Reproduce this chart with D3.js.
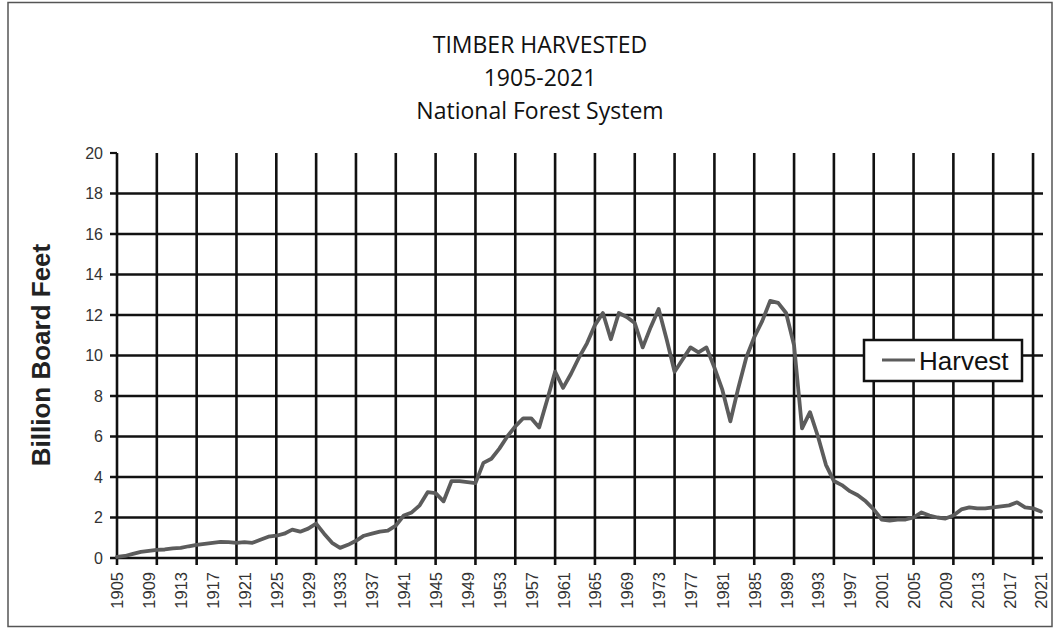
<!DOCTYPE html>
<html>
<head>
<meta charset="utf-8">
<script src="https://cdn.jsdelivr.net/npm/d3@7"></script>
<style>
  html, body { margin: 0; padding: 0; background: #fff; }
  svg { display: block; }
</style>
</head>
<body>
<svg id="chart" width="1060" height="629"></svg>
<script>
// ---- Data ----
const titleLines = ["TIMBER HARVESTED", "1905-2021", "National Forest System"];
const yAxisTitle = "Billion Board Feet";
const seriesName = "Harvest";

const years = d3.range(1905, 2022);
const harvest = [
  0.05, 0.1, 0.2, 0.3, 0.35, 0.4, 0.42, 0.48, 0.5, 0.58,      // 1905-1914
  0.65, 0.7, 0.75, 0.8, 0.78, 0.75, 0.78, 0.75, 0.9, 1.05,    // 1915-1924
  1.1, 1.2, 1.4, 1.3, 1.45, 1.7, 1.2, 0.75, 0.5, 0.65,        // 1925-1934
  0.85, 1.1, 1.2, 1.3, 1.35, 1.6, 2.1, 2.25, 2.6, 3.25,       // 1935-1944
  3.2, 2.8, 3.8, 3.8, 3.75, 3.7, 4.7, 4.9, 5.4, 6.0,          // 1945-1954
  6.5, 6.9, 6.9, 6.45, 7.8, 9.2, 8.4, 9.1, 9.9, 10.6,         // 1955-1964
  11.5, 12.1, 10.8, 12.1, 11.9, 11.6, 10.4, 11.4, 12.3, 10.8, // 1965-1974
  9.2, 9.8, 10.4, 10.15, 10.4, 9.4, 8.3, 6.75, 8.4, 9.9,      // 1975-1984
  10.9, 11.7, 12.7, 12.6, 12.1, 10.5, 6.4, 7.2, 6.0, 4.6,     // 1985-1994
  3.8, 3.6, 3.3, 3.1, 2.8, 2.4, 1.9, 1.85, 1.9, 1.9,          // 1995-2004
  2.0, 2.25, 2.1, 2.0, 1.95, 2.1, 2.4, 2.5, 2.45, 2.45,       // 2005-2014
  2.5, 2.55, 2.6, 2.75, 2.5, 2.45, 2.3                        // 2015-2021
];

const yTicks = [0, 2, 4, 6, 8, 10, 12, 14, 16, 18, 20];
const yGridValues = [0, 2, 4, 6, 8, 10, 12, 14, 16, 18];
const xLabelYears = d3.range(1905, 2022, 4);
const xGridYears = d3.range(1905, 2021, 5);

// ---- Layout ----
const svg = d3.select("#chart");
const plotLeft = 117, plotRight = 1041, plotTop = 153, plotBottom = 558;
const gridLeft = 110, gridRight = 1043, tickBottom = 565;

const x = d3.scaleLinear().domain([1905, 2021]).range([plotLeft, plotRight]);
const y = d3.scaleLinear().domain([0, 20]).range([plotBottom, plotTop]);

// outer border
svg.append("rect")
  .attr("x", 8).attr("y", 2.5).attr("width", 1044).attr("height", 624)
  .attr("fill", "#fff").attr("stroke", "#555").attr("stroke-width", 1.5);

// Title
svg.append("g").selectAll("text").data(titleLines).join("text")
  .attr("x", 540).attr("y", (d, i) => 53 + i * 33)
  .attr("text-anchor", "middle")
  .style("font-family", "'Open Sans', 'Noto Sans', sans-serif")
  .style("font-size", "23px")
  .attr("fill", "#111")
  .text(d => d);

// Horizontal grid lines
const gridColor = "#111";
svg.append("g").selectAll("line").data(yGridValues).join("line")
  .attr("x1", gridLeft).attr("x2", gridRight)
  .attr("y1", d => y(d)).attr("y2", d => y(d))
  .attr("stroke", gridColor).attr("stroke-width", 2.6);

// top tick at 20
svg.append("line")
  .attr("x1", gridLeft).attr("x2", plotLeft)
  .attr("y1", y(20)).attr("y2", y(20))
  .attr("stroke", gridColor).attr("stroke-width", 2.2);

// Vertical grid lines
svg.append("g").selectAll("line").data(xGridYears).join("line")
  .attr("x1", d => x(d)).attr("x2", d => x(d))
  .attr("y1", plotTop).attr("y2", tickBottom)
  .attr("stroke", gridColor).attr("stroke-width", 2.6);

// Y axis labels
const yAxis = d3.axisLeft(y).tickValues(yTicks).tickSize(0).tickPadding(14);
const gy = svg.append("g").attr("transform", `translate(${plotLeft},0)`).call(yAxis);
gy.select(".domain").remove();
gy.selectAll("text")
  .style("font-family", "'Liberation Sans', Arial, sans-serif")
  .style("font-size", "16px")
  .attr("fill", "#333");

// X axis labels
const xAxis = d3.axisBottom(x).tickValues(xLabelYears).tickFormat(d3.format("d")).tickSize(0);
const gx = svg.append("g").attr("transform", `translate(0,${plotBottom})`).call(xAxis);
gx.select(".domain").remove();
gx.selectAll("text")
  .attr("transform", "rotate(-90)")
  .attr("x", -14).attr("y", 0).attr("dy", "0.36em")
  .style("text-anchor", "end")
  .style("font-family", "'Liberation Sans', Arial, sans-serif")
  .style("font-size", "16.5px")
  .attr("fill", "#333");

// Y axis title
svg.append("text")
  .attr("transform", `translate(50,355) rotate(-90)`)
  .attr("text-anchor", "middle")
  .style("font-family", "'Liberation Sans', Arial, sans-serif")
  .style("font-size", "26px")
  .style("font-weight", "bold")
  .attr("fill", "#222")
  .text(yAxisTitle);

// Data line
const line = d3.line().x((d, i) => x(years[i])).y(d => y(d));
svg.append("path")
  .datum(harvest)
  .attr("d", line)
  .attr("fill", "none")
  .attr("stroke", "#5c5c5c")
  .attr("stroke-width", 3.8)
  .attr("stroke-linejoin", "round")
  .attr("stroke-linecap", "round");

// Legend
const lg = svg.append("g");
lg.append("rect")
  .attr("x", 864).attr("y", 340).attr("width", 158).attr("height", 41)
  .attr("fill", "#fff").attr("stroke", "#111").attr("stroke-width", 2.5);
lg.append("line")
  .attr("x1", 882).attr("x2", 915).attr("y1", 360).attr("y2", 360)
  .attr("stroke", "#5c5c5c").attr("stroke-width", 3);
lg.append("text")
  .attr("x", 919).attr("y", 370)
  .style("font-family", "'Liberation Sans', Arial, sans-serif")
  .style("font-size", "26px")
  .attr("fill", "#111")
  .text(seriesName);
</script>
</body>
</html>
